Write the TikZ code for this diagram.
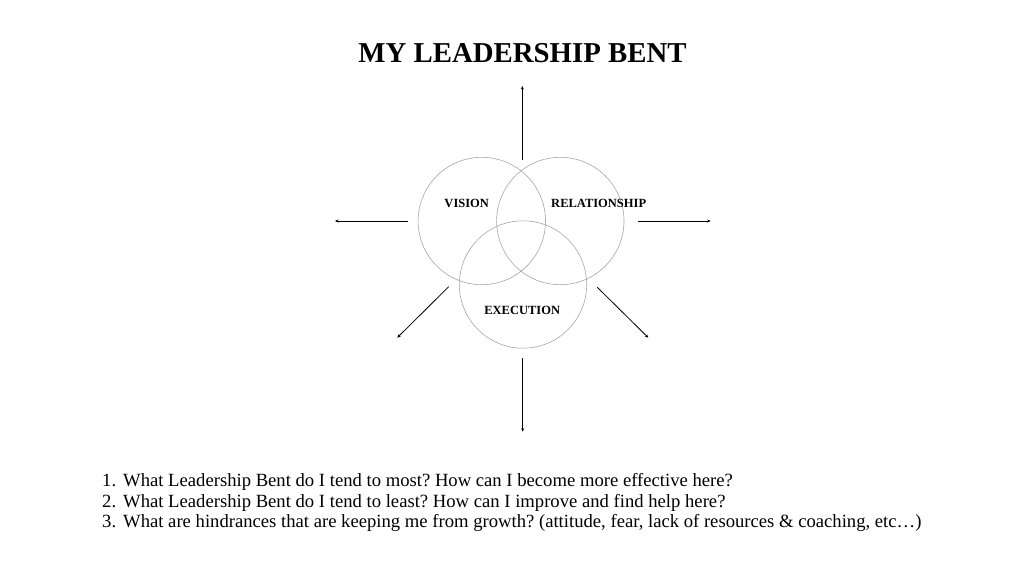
\documentclass[tikz,border=0pt]{standalone}
\usepackage{fontspec}
\setmainfont{Liberation Serif}
\usetikzlibrary{arrows.meta}
\begin{document}
\begin{tikzpicture}[x=1pt,y=-1pt,
  ring/.style={circle,draw=black!35,line width=0.6pt,minimum size=127.4pt,inner sep=0pt},
  lbl/.style={font=\fontsize{12.5}{14}\selectfont\bfseries,inner sep=0pt},
  ray/.style={draw=black,line width=0.8pt,-{Stealth[length=3.5pt,width=3pt]}}]
\useasboundingbox[fill=white] (0,0) rectangle (1024,576);
\node[font=\fontsize{28.8}{32}\selectfont\bfseries,inner sep=0pt] (title) at (522.5,53) {MY LEADERSHIP BENT};
\node[ring] (vis) at (481.8,221) {};
\node[ring] (rel) at (560.3,221) {};
\node[ring] (exe) at (523,284.5) {};
\node[lbl] (tv) at (466.7,203.3) {VISION};
\node[lbl] (tr) at (598.7,203.3) {RELATIONSHIP};
\node[lbl] (te) at (522.2,310.3) {EXECUTION};
\coordinate (us) at (522.3,159.5);
\coordinate (ue) at (522.3,86);
\coordinate (ls) at (407.7,221);
\coordinate (le) at (335,221);
\coordinate (rs) at (638.3,221);
\coordinate (re) at (710.7,221);
\coordinate (lls) at (448.7,286.7);
\coordinate (lle) at (397.3,337.7);
\coordinate (lrs) at (597.3,287.3);
\coordinate (lre) at (648.3,337.7);
\coordinate (ds) at (522.7,358.3);
\coordinate (de) at (522.7,431.7);
\draw[ray] (us) -- (ue);
\draw[ray] (ls) -- (le);
\draw[ray] (rs) -- (re);
\draw[ray] (lls) -- (lle);
\draw[ray] (lrs) -- (lre);
\draw[ray] (ds) -- (de);
\node[anchor=west,inner sep=0pt,font=\fontsize{18.65}{20.8}\selectfont\frenchspacing] (qs) at (102,503) {%
\begin{tabular}{@{}l@{\hspace{7pt}}l@{}}
1. & What Leadership Bent do I tend to most? How can I become more effective here?\\
2. & What Leadership Bent do I tend to least? How can I improve and find help here?\\
3. & What are hindrances that are keeping me from growth? (attitude, fear, lack of resources \& coaching, etc…)
\end{tabular}};
\end{tikzpicture}
\end{document}
